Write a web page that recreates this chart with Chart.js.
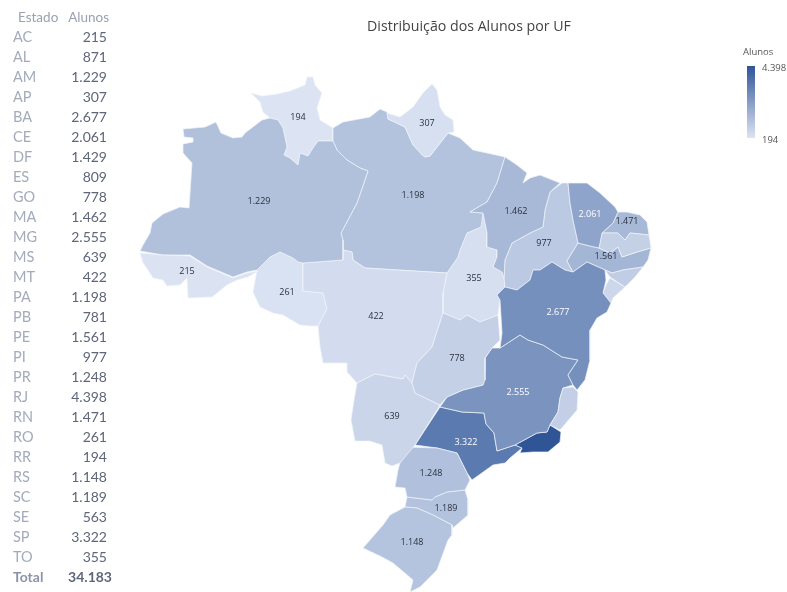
<!DOCTYPE html>
<html lang="pt-BR">
<head>
<meta charset="utf-8">
<title>Distribuição dos Alunos por UF</title>
<script src="https://cdn.jsdelivr.net/npm/chart.js@4"></script>
<style>
    html, body { margin: 0; padding: 0; background: #fff; overflow: hidden; }
    #page { position: relative; width: 787px; height: 592px; filter: blur(0.35px); }
    #mapa { position: absolute; left: 0; top: 0; }
    .txt { position: absolute; white-space: nowrap; line-height: 1; }
    #titulo { left: 269px; width: 400px; top: 16px; text-align: center; font: 14.2px "Open Sans", sans-serif; color: #444; }
    .uf { left: 13px; font: 14.5px Lato, sans-serif; color: #a3abbb; }
    .val { right: 680px; font: 14px Lato, sans-serif; color: #5f6679; }
    .head { font: 13.5px Lato, sans-serif; color: #9aa1b0; }
    #barra { position: absolute; left: 747px; top: 66px; width: 8px; height: 72px; background: linear-gradient(#2f5597, #dce4f3); }
    .leg { font: 9.5px "Open Sans", sans-serif; color: #555; }
</style>
</head>
<body>
<div id="page">
    <canvas id="mapa" width="787" height="592"></canvas>
    <div id="titulo" class="txt">Distribuição dos Alunos por UF</div>
    <div id="barra"></div>
</div>
<script>
// Dados da tabela
const estados = ['AC','AL','AM','AP','BA','CE','DF','ES','GO','MA','MG','MS','MT','PA','PB','PE','PI','PR','RJ','RN','RO','RR','RS','SC','SE','SP','TO'];
const alunos = [215,871,1229,307,2677,2061,1429,809,778,1462,2555,639,422,1198,781,1561,977,1248,4398,1471,261,194,1148,1189,563,3322,355];
const total = 34183;
const escalaMin = 194;
const escalaMax = 4398;

// Estados sem rótulo no mapa
const semRotulo = ['AL','DF','ES','PB','RJ','SE'];

// Contornos dos estados, em unidades da grade do mapa (x, y, x, y...)
const contornoAC = [140,253, 163,255, 190,256, 207,267, 233,278, 247,273, 258,271, 248,277, 237,280, 227,285, 212,297, 188,298, 187,278, 180,285, 167,286, 163,280, 153,278, 148,270, 143,263];
const contornoAL = [605,270, 612,273, 623,270, 643,267, 635,277, 625,287, 610,277];
const contornoAM = [183,129, 205,127, 216,122, 221,133, 233,138, 242,137, 245,133, 262,120, 270,118, 278,120, 283,128, 287,147, 284,155, 290,158, 298,165, 300,153, 308,156, 313,148, 318,141, 333,141, 337,150, 347,160, 360,168, 368,171, 357,203, 341,233, 343,240, 343,260, 303,263, 298,262, 293,258, 280,252, 270,257, 257,270, 247,272, 233,277, 207,266, 190,255, 163,255, 140,251, 143,245, 150,233, 152,223, 163,214, 180,207, 189,208, 192,163, 183,153, 183,144, 193,142, 193,138, 184,137];
const contornoAP = [387,113, 400,117, 413,107, 423,93, 432,84, 437,90, 440,107, 445,115, 453,120, 454,132, 448,133, 430,156, 425,157, 422,155, 413,145, 405,127, 388,119];
const contornoBA = [497,295, 505,287, 517,290, 530,280, 533,270, 540,270, 552,262, 565,270, 573,272, 587,262, 605,270, 606,280, 603,293, 611,303, 607,312, 597,318, 590,330, 590,360, 585,380, 577,390, 573,385, 568,375, 578,360, 562,357, 543,345, 528,340, 520,335, 500,348, 502,333, 500,300];
const contornoCE = [568,183, 587,183, 600,193, 615,207, 618,212, 613,223, 602,233, 599,248, 590,246, 578,243, 573,220, 570,203];
const contornoDF = [473,352, 484,352, 484,357, 473,357];
const contornoES = [563,388, 573,387, 578,392, 577,410, 560,430, 550,425, 558,412, 560,398];
const contornoGO = [443,313, 448,315, 460,320, 467,315, 480,322, 498,315, 500,340, 492,348, 485,358, 485,380, 483,385, 463,390, 447,397, 440,405, 415,393, 412,383, 417,363, 432,347];
const contornoMA = [505,157, 517,165, 527,173, 523,183, 530,178, 540,175, 560,183, 550,192, 545,210, 543,227, 530,233, 512,243, 505,260, 504,278, 502,272, 493,267, 497,257, 497,250, 487,247, 487,233, 483,213, 470,212, 487,202, 497,183];
const contornoMG = [500,348, 520,335, 528,340, 543,345, 562,357, 578,360, 568,375, 573,385, 563,388, 560,398, 558,412, 550,425, 547,432, 537,433, 515,445, 497,451, 494,433, 486,424, 484,413, 462,412, 440,407, 447,397, 463,390, 483,385, 485,370, 485,358, 492,348];
const contornoMS = [357,383, 375,374, 397,378, 403,379, 405,375, 412,383, 415,393, 440,405, 437,410, 415,445, 400,463, 392,466, 385,463, 382,445, 370,441, 355,441, 351,420, 354,400];
const contornoMT = [303,263, 342,260, 343,250, 352,252, 353,260, 365,268, 447,273, 443,293, 443,313, 432,347, 417,363, 412,383, 405,375, 403,379, 397,378, 375,374, 357,383, 347,372, 347,363, 323,363, 320,347, 318,326, 327,309, 323,293, 303,291];
const contornoPA = [333,128, 343,122, 370,117, 380,109, 387,112, 388,119, 405,127, 413,145, 425,157, 430,156, 448,133, 460,138, 473,150, 487,153, 505,157, 497,183, 487,202, 470,212, 483,213, 481,227, 467,233, 460,250, 458,257, 447,273, 365,268, 353,260, 352,252, 343,250, 343,240, 341,233, 357,203, 368,171, 360,168, 347,160, 337,150, 333,141];
const contornoPB = [602,233, 618,233, 625,240, 630,233, 649,235, 651,248, 637,252, 622,257, 618,247, 610,253, 599,248];
const contornoPE = [578,243, 590,246, 599,248, 610,253, 618,247, 622,257, 637,252, 651,248, 648,260, 643,267, 623,270, 612,273, 605,270, 587,262, 573,272, 567,261];
const contornoPI = [562,183, 568,183, 570,203, 573,220, 578,243, 567,261, 573,272, 565,270, 552,262, 540,270, 533,270, 530,280, 517,290, 505,287, 504,278, 505,260, 512,243, 530,233, 543,227, 545,210, 550,192];
const contornoPR = [400,463, 408,447, 437,448, 457,453, 467,473, 470,480, 465,490, 447,492, 435,497, 432,500, 407,497, 405,488, 395,487, 398,470];
const contornoRJ = [515,445, 537,433, 547,432, 550,425, 561,432, 560,442, 548,452, 533,452, 520,453, 522,448];
const contornoRN = [618,212, 627,212, 640,215, 647,222, 649,235, 630,233, 625,240, 618,233, 602,233, 613,223];
const contornoRO = [257,270, 270,257, 280,252, 293,258, 298,262, 303,263, 303,291, 323,293, 327,309, 318,326, 310,326, 300,325, 283,315, 273,313, 260,307, 253,292];
const contornoRR = [251,93, 262,96, 277,94, 290,91, 305,85, 307,77, 313,77, 315,85, 322,93, 317,108, 320,120, 333,128, 333,141, 318,141, 313,148, 308,156, 300,153, 298,165, 290,158, 284,155, 287,147, 283,128, 278,120, 270,118, 263,112, 260,102];
const contornoRS = [405,507, 417,508, 433,515, 452,525, 452,535, 448,540, 437,570, 420,587, 410,592, 413,580, 393,563, 382,557, 363,548, 383,525, 390,515];
const contornoSC = [407,497, 432,500, 435,497, 447,492, 465,490, 468,500, 468,515, 453,528, 452,525, 433,515, 417,508, 405,507];
const contornoSE = [610,278, 625,287, 613,298, 611,303, 603,293, 606,285];
const contornoSP = [415,445, 440,407, 462,412, 484,413, 486,424, 494,433, 497,451, 515,445, 522,448, 510,458, 505,463, 493,465, 472,480, 467,473, 457,453, 437,448];
const contornoTO = [470,212, 483,213, 487,233, 487,247, 497,250, 497,257, 493,267, 502,272, 504,278, 505,287, 497,295, 500,300, 498,315, 480,322, 467,315, 460,320, 448,315, 443,313, 443,293, 447,273, 458,257, 460,250, 467,233, 481,227];

// Onde fica o rótulo de cada estado, na mesma grade
const rotuloPos = {
    AC: [187,271], AM: [259,201], AP: [427,123], BA: [558,312], CE: [590,214], GO: [457,358], MA: [516,211],
    MG: [518,392], MS: [392,416], MT: [376,316], PA: [413,195], PE: [606,256], PI: [544,243], PR: [431,473],
    RN: [627,221], RO: [287,292], RR: [298,117], RS: [412,542], SC: [446,508], SP: [466,442], TO: [474,278]
};

const contornos = {
    AC: contornoAC, AL: contornoAL, AM: contornoAM, AP: contornoAP, BA: contornoBA, CE: contornoCE, DF: contornoDF,
    ES: contornoES, GO: contornoGO, MA: contornoMA, MG: contornoMG, MS: contornoMS, MT: contornoMT, PA: contornoPA,
    PB: contornoPB, PE: contornoPE, PI: contornoPI, PR: contornoPR, RJ: contornoRJ, RN: contornoRN, RO: contornoRO,
    RR: contornoRR, RS: contornoRS, SC: contornoSC, SE: contornoSE, SP: contornoSP, TO: contornoTO
};

function formatar(n) {
    return String(n).replace(/\B(?=(\d{3})+$)/g, '.');
}

// Cor proporcional ao valor, entre o claro e o escuro da legenda
function corDoValor(v) {
    const t = (v - escalaMin) / (escalaMax - escalaMin);
    const r = Math.round(220 + (47 - 220) * t);
    const g = Math.round(228 + (85 - 228) * t);
    const b = Math.round(243 + (151 - 243) * t);
    return `rgb(${r},${g},${b})`;
}

function paraPontos(lista) {
    const pontos = [];
    for (let i = 0; i < lista.length; i += 2) {
        pontos.push({ x: lista[i], y: lista[i + 1] });
    }
    pontos.push(pontos[0]);
    return pontos;
}

// DF fica por cima de GO, então entra por último
const ordem = estados.filter(uf => uf !== 'DF').concat('DF');

const datasets = ordem.map(uf => ({
    label: uf,
    data: paraPontos(contornos[uf]),
    showLine: true,
    fill: 'shape',
    backgroundColor: corDoValor(alunos[estados.indexOf(uf)]),
    borderColor: 'rgba(240,244,250,0.7)',
    borderWidth: 1,
    borderJoinStyle: 'round',
    pointRadius: 0,
    tension: 0
}));

// Rótulos de valor sobre os estados
const rotulosPlugin = {
    id: 'rotulos',
    afterDatasetsDraw(chart) {
        const ctx = chart.ctx;
        ctx.save();
        ctx.font = '9px "Open Sans", sans-serif';
        ctx.textAlign = 'center';
        ctx.textBaseline = 'middle';
        estados.forEach((uf, i) => {
            if (semRotulo.includes(uf)) return;
            const pos = rotuloPos[uf];
            ctx.fillStyle = alunos[i] >= 2000 ? '#ffffff' : '#2b3140';
            ctx.fillText(formatar(alunos[i]), chart.scales.x.getPixelForValue(pos[0]), chart.scales.y.getPixelForValue(pos[1]));
        });
        ctx.restore();
    }
};

new Chart(document.getElementById('mapa').getContext('2d'), {
    type: 'scatter',
    data: { datasets: datasets },
    plugins: [rotulosPlugin],
    options: {
        responsive: false,
        animation: false,
        layout: { padding: 0 },
        plugins: { legend: { display: false }, tooltip: { enabled: false } },
        scales: {
            x: { type: 'linear', min: 0, max: 787, display: false },
            y: { type: 'linear', min: 0, max: 592, reverse: true, display: false }
        }
    }
});

// Tabela da esquerda
const page = document.getElementById('page');

function addTexto(texto, classe, estilo) {
    const el = document.createElement('div');
    el.className = 'txt ' + classe;
    el.textContent = texto;
    Object.assign(el.style, estilo);
    page.appendChild(el);
}

addTexto('Estado', 'head', { left: '18px', top: '9px' });
addTexto('Alunos', 'head', { right: '678px', top: '9px' });

estados.forEach((uf, i) => {
    const top = (28 + i * 20) + 'px';
    addTexto(uf, 'uf', { top: top });
    addTexto(formatar(alunos[i]), 'val', { top: top });
});
addTexto('Total', 'uf', { top: '568px', fontWeight: 'bold', color: '#8a93a8', fontSize: '14px' });
addTexto(formatar(total), 'val', { top: '568px', right: '675px', fontWeight: 'bold' });

// Legenda de cor
addTexto('Alunos', 'leg', { left: '743px', top: '45px' });
addTexto(formatar(escalaMax), 'leg', { left: '762px', top: '61px' });
addTexto(formatar(escalaMin), 'leg', { left: '762px', top: '133px' });
</script>
</body>
</html>
